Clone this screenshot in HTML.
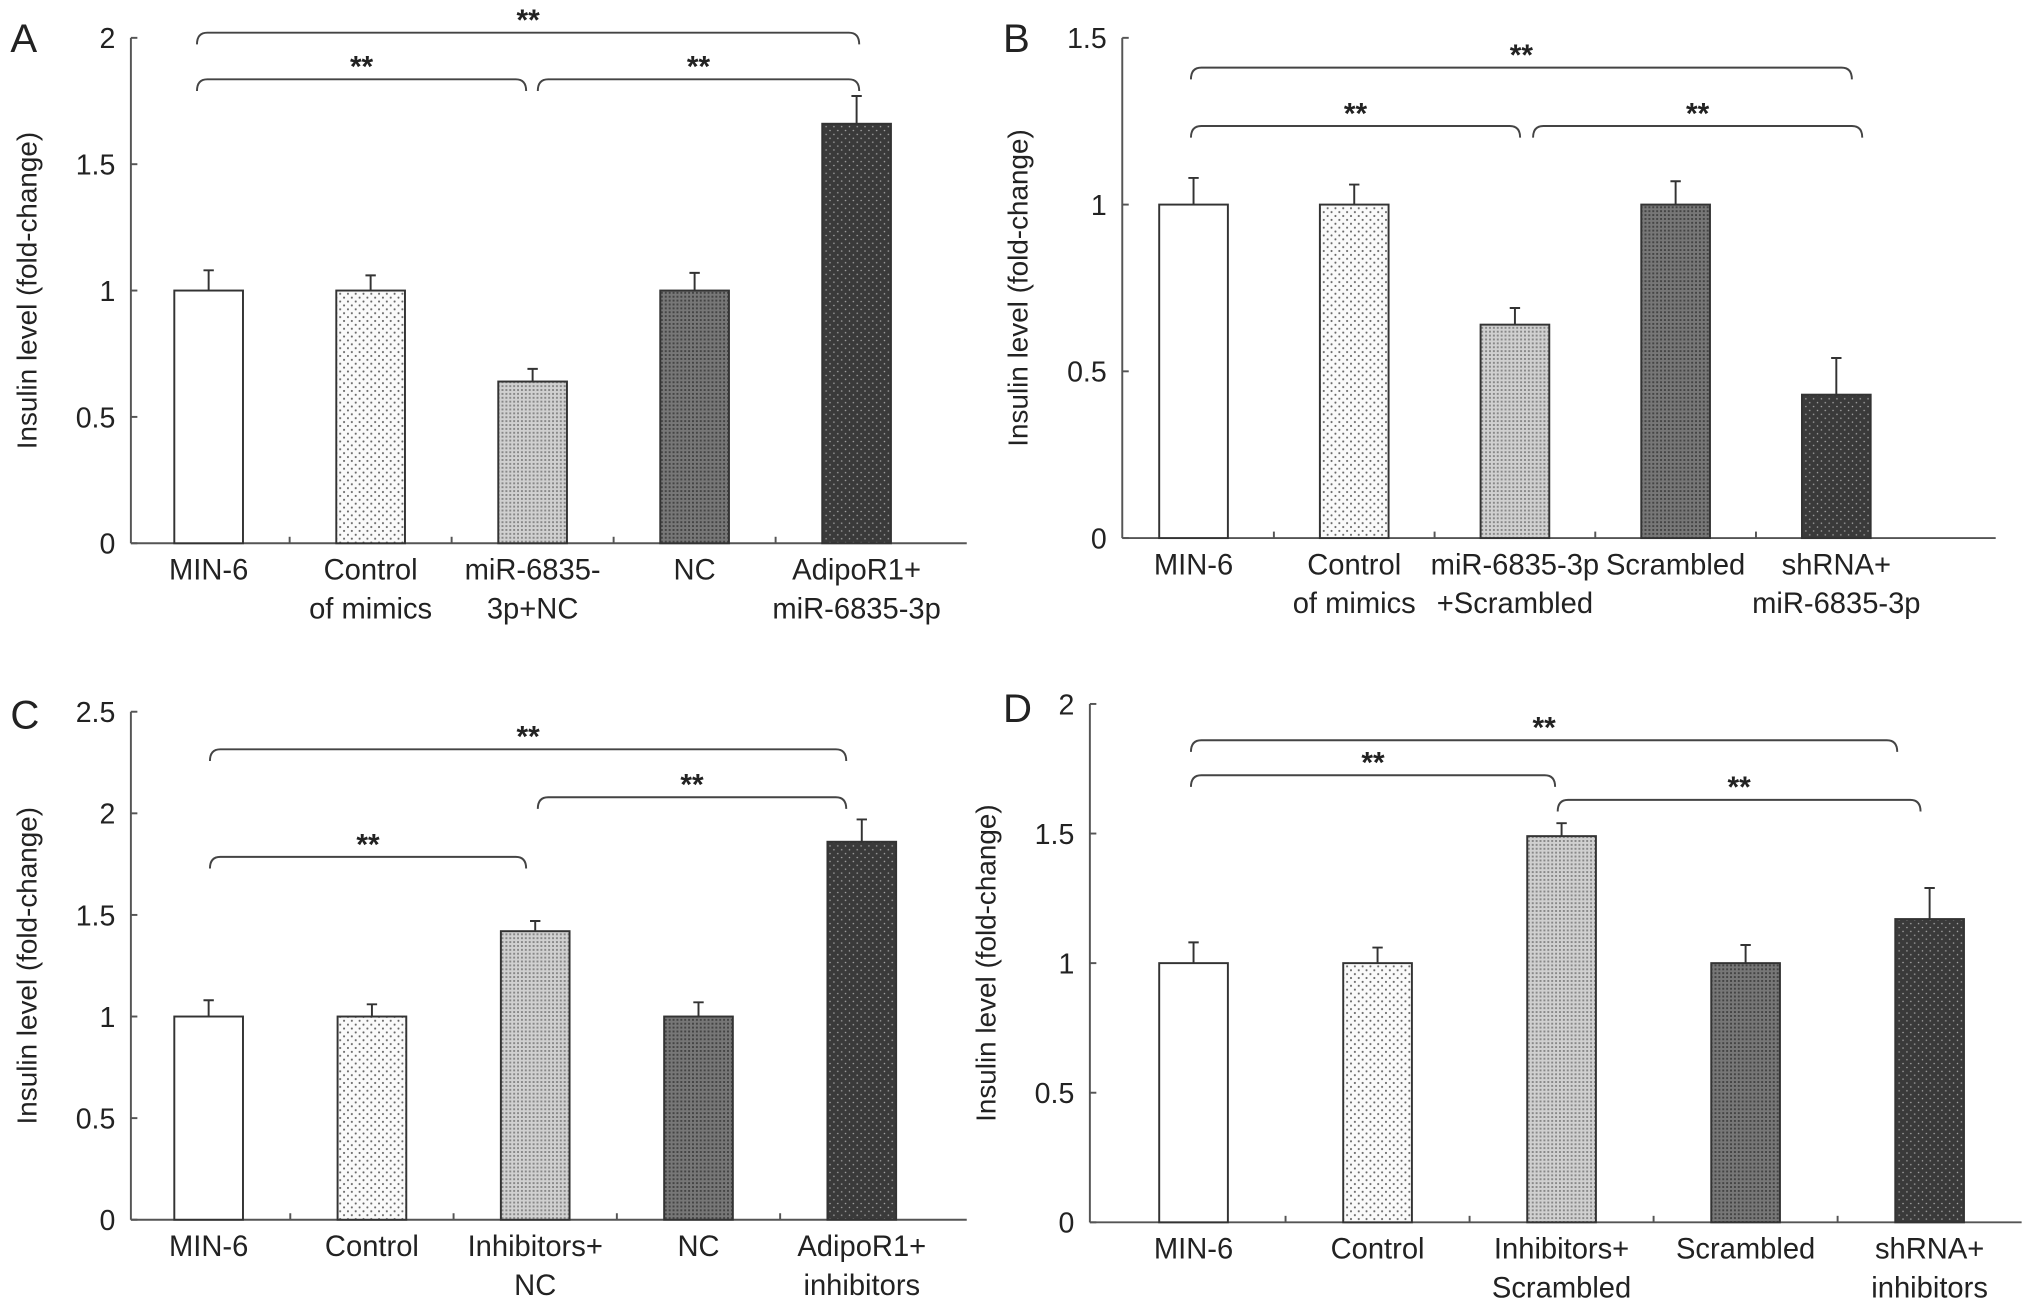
<!DOCTYPE html>
<html><head><meta charset="utf-8"><style>
html,body{margin:0;padding:0;background:#fff}
svg{display:block}
text{font-family:"Liberation Sans",Arial,sans-serif;fill:#222}
</style></head><body>
<svg id="fig" width="2032" height="1312" viewBox="0 0 1568 1012" xmlns="http://www.w3.org/2000/svg">
<defs>
<pattern id="pDots" width="6" height="6" patternUnits="userSpaceOnUse"><rect width="6" height="6" fill="#fafafa"/><circle cx="1.5" cy="1.5" r="0.8" fill="#666"/><circle cx="4.5" cy="4.5" r="0.8" fill="#666"/></pattern>
<pattern id="pLight" width="3" height="3" patternUnits="userSpaceOnUse"><rect width="3" height="3" fill="#d0d0d0"/><rect width="1.5" height="1.5" fill="#888"/></pattern>
<pattern id="pMid" width="3" height="3" patternUnits="userSpaceOnUse"><rect width="3" height="3" fill="#777"/><rect width="1.5" height="1.5" fill="#444"/></pattern>
<pattern id="pDark" width="6" height="6" patternUnits="userSpaceOnUse"><rect width="6" height="6" fill="#3a3a3a"/><circle cx="1.5" cy="1.5" r="0.6" fill="#aaa"/><circle cx="4.5" cy="4.5" r="0.6" fill="#aaa"/></pattern>
</defs>
</svg>
<script>
const catsA=["MIN-6","Control|of mimics","miR-6835-|3p+NC","NC","AdipoR1+|miR-6835-3p"];
const valsA=[1,1,0.64,1,1.66];
const errsA=[0.08,0.06,0.05,0.07,0.11];
const ticksA=[0,0.5,1,1.5,2];
const catsB=["MIN-6","Control|of mimics","miR-6835-3p|+Scrambled","Scrambled","shRNA+|miR-6835-3p"];
const valsB=[1,1,0.64,1,0.43];
const errsB=[0.08,0.06,0.05,0.07,0.11];
const ticksB=[0,0.5,1,1.5];
const catsC=["MIN-6","Control","Inhibitors+|NC","NC","AdipoR1+|inhibitors"];
const valsC=[1,1,1.42,1,1.86];
const errsC=[0.08,0.06,0.05,0.07,0.11];
const ticksC=[0,0.5,1,1.5,2,2.5];
const catsD=["MIN-6","Control","Inhibitors+|Scrambled","Scrambled","shRNA+|inhibitors"];
const valsD=[1,1,1.49,1,1.17];
const errsD=[0.08,0.06,0.05,0.07,0.12];
const ticksD=[0,0.5,1,1.5,2];

const NS="http://www.w3.org/2000/svg";
const svg=document.getElementById('fig');
const fills=["#fff","url(#pDots)","url(#pLight)","url(#pMid)","url(#pDark)"];
function mk(tag,attrs,parent){const e=document.createElementNS(NS,tag);for(const k in attrs)e.setAttribute(k,attrs[k]);(parent||svg).appendChild(e);return e;}

function panel(cfg,cats,vals,errs,ticks){
  const g=mk('g',{});
  
  
  const ymax=ticks[ticks.length-1];
  const y=v=>cfg.y0-(v/ymax)*(cfg.y0-cfg.yTop);
  const x=i=>cfg.c0+i*cfg.step;
  const L=mk('text',{x:cfg.lx,y:cfg.ly,'font-size':31},g);L.textContent=cfg.id;
  
  
  const yt=mk('text',{transform:`translate(${cfg.ax-73},${(cfg.y0+cfg.yTop)/2}) rotate(-90)`,'text-anchor':'middle','font-size':21.5},g);
  yt.textContent='Insulin level (fold-change)';
  
  
  mk('line',{x1:cfg.ax,y1:cfg.yTop,x2:cfg.ax,y2:cfg.y0,stroke:'#555','stroke-width':1.5},g);
  mk('line',{x1:cfg.ax,y1:cfg.y0,x2:cfg.xEnd,y2:cfg.y0,stroke:'#555','stroke-width':1.5},g);
  ticks.forEach(t=>{
    mk('line',{x1:cfg.ax,y1:y(t),x2:cfg.ax+5,y2:y(t),stroke:'#555','stroke-width':1.5},g);
    const tl=mk('text',{x:cfg.ax-12,y:y(t)+8,'text-anchor':'end','font-size':22},g);tl.textContent=String(t);
    
    
  });
  for(let i=1;i<cats.length;i++){const tx=x(i)-cfg.step/2;mk('line',{x1:tx,y1:cfg.y0,x2:tx,y2:cfg.y0-5,stroke:'#555','stroke-width':1.5},g);}
  const bw=53;
  vals.forEach((v,i)=>{
    const cx=x(i);
    const r=mk('rect',{x:cx-bw/2,y:y(v),width:bw,height:cfg.y0-y(v),fill:fills[i],stroke:'#333','stroke-width':1.5},g);
    
    
    const e=mk('path',{d:`M${cx},${y(v)}V${y(v+errs[i])}M${cx-4},${y(v+errs[i])}H${cx+4}`,stroke:'#333','stroke-width':1.5,fill:'none'},g);
    
    
    cats[i].split('|').forEach((ln,j)=>{
      const t=mk('text',{x:cx,y:cfg.y0+28+j*30,'text-anchor':'middle','font-size':22.5},g);t.textContent=ln;
      
      
    });
  });
  cfg.brackets.forEach(b=>{
    const p=mk('path',{d:`M${b[0]},${b[2]+9}Q${b[0]},${b[2]} ${b[0]+8},${b[2]}H${b[1]-8}Q${b[1]},${b[2]} ${b[1]},${b[2]+9}`,stroke:'#444','stroke-width':1.5,fill:'none'},g);
    
    
    const s=mk('text',{x:(b[0]+b[1])/2,y:b[2]-2,'text-anchor':'middle','font-size':23,'font-weight':'bold'},g);s.textContent='**';
    
    
  });
}
panel({id:'A',lx:8,ly:40,ax:101,yTop:29,y0:419,xEnd:746,c0:161,step:125,
  brackets:[[152,663,25],[152,406,61],[415,663,61]]},catsA,valsA,errsA,ticksA);
panel({id:'B',lx:774,ly:40,ax:866,yTop:29,y0:415,xEnd:1540,c0:921,step:124,
  brackets:[[919,1429,52],[919,1173,97],[1183,1437,97]]},catsB,valsB,errsB,ticksB);
panel({id:'C',lx:8,ly:562,ax:101,yTop:549,y0:941,xEnd:746,c0:161,step:126,
  brackets:[[162,653,578],[415,653,615],[162,406,661]]},catsC,valsC,errsC,ticksC);
panel({id:'D',lx:774,ly:557,ax:841,yTop:543,y0:943,xEnd:1560,c0:921,step:142,
  brackets:[[919,1464,571],[919,1200,598],[1202,1482,617]]},catsD,valsD,errsD,ticksD);
</script>
</body></html>
